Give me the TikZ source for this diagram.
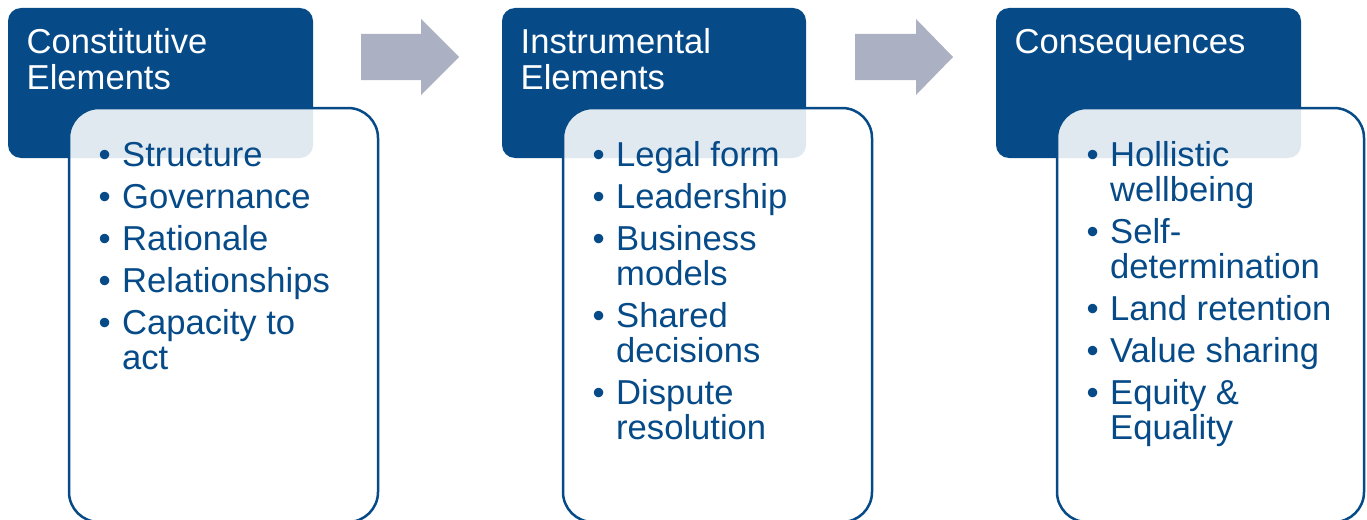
\documentclass[tikz,border=0pt]{standalone}
\usepackage{fontspec}
\setmainfont{Liberation Sans}
\definecolor{hdrblue}{RGB}{6,74,136}
\definecolor{arrowgray}{RGB}{171,176,194}
\newcommand{\rs}{\rule[-9.5pt]{0pt}{35pt}}
\newcommand{\itm}[1]{\rs\textbullet & #1}
\newcommand{\cnt}[1]{\rs & #1}
\newcommand{\nx}{\\[16.5pt]}
\begin{document}
\begin{tikzpicture}[x=1pt,y=-1pt,
  header/.style={fill=hdrblue, draw=none, rounded corners=13pt},
  bodybox/.style={fill=white, fill opacity=0.88, draw=hdrblue, draw opacity=1, line width=2.5pt, rounded corners=30pt},
  htext/.style={anchor=base west, inner sep=0pt, text=white, font=\fontsize{34.6}{36}\selectfont},
  btext/.style={anchor=base west, inner sep=0pt, text=hdrblue, font=\fontsize{34.6}{35}\selectfont\def\arraystretch{0}},
  flowarrow/.style={fill=arrowgray, draw=none}
]
\clip (0,0) rectangle (1367,519);
\useasboundingbox (0,0) rectangle (1367,519);

% column 1
\path[header] (8,8) rectangle (313,158);
\node[htext] (h1) at (26.5,53.5) {\begin{tabular}[t]{@{}l@{}}Constitutive\\Elements\end{tabular}};
\path[bodybox] (69,108) rectangle (378,522);
\node[btext] (b1) at (98.5,166) {\begin{tabular}[t]{@{}p{23.5pt}@{}l@{}}
\itm{Structure}\nx
\itm{Governance}\nx
\itm{Rationale}\nx
\itm{Relationships}\nx
\itm{Capacity to}\\
\cnt{act}
\end{tabular}};

% column 2
\path[header] (502,8) rectangle (806,158);
\node[htext] (h2) at (520.5,53.5) {\begin{tabular}[t]{@{}l@{}}Instrumental\\Elements\end{tabular}};
\path[bodybox] (563,108) rectangle (872,522);
\node[btext] (b2) at (592.5,166) {\begin{tabular}[t]{@{}p{23.5pt}@{}l@{}}
\itm{Legal form}\nx
\itm{Leadership}\nx
\itm{Business}\\
\cnt{models}\nx
\itm{Shared}\\
\cnt{decisions}\nx
\itm{Dispute}\\
\cnt{resolution}
\end{tabular}};

% column 3
\path[header] (996,8) rectangle (1301,158);
\node[htext] (h3) at (1014.5,53.5) {\begin{tabular}[t]{@{}l@{}}Consequences\end{tabular}};
\path[bodybox] (1057,108) rectangle (1364,522);
\node[btext] (b3) at (1086.5,166) {\begin{tabular}[t]{@{}p{23.5pt}@{}l@{}}
\itm{Hollistic}\\
\cnt{wellbeing}\nx
\itm{Self-}\\
\cnt{determination}\nx
\itm{Land retention}\nx
\itm{Value sharing}\nx
\itm{Equity \&}\\
\cnt{Equality}
\end{tabular}};

% arrows
\path[flowarrow] (361,34) -- (421,34) -- (421,19) -- (459,57) -- (421,95) -- (421,80) -- (361,80) -- cycle;
\path[flowarrow] (855,34) -- (916,34) -- (916,19) -- (953,57) -- (916,95) -- (916,80) -- (855,80) -- cycle;
\end{tikzpicture}
\end{document}
